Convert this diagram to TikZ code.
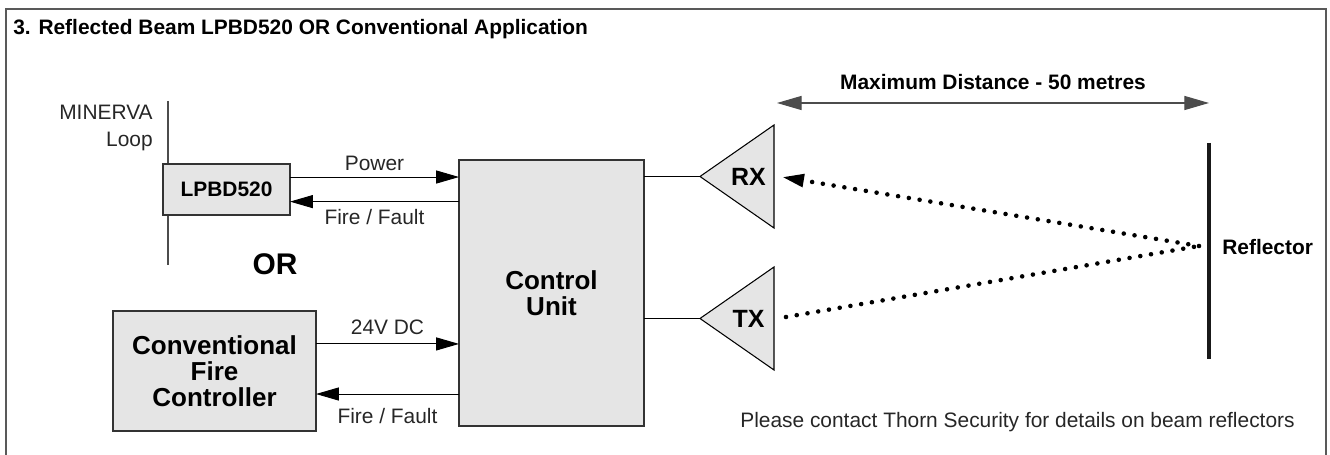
\documentclass[tikz,border=0pt]{standalone}
\usepackage{fontspec}
\setmainfont{Liberation Sans}
\usetikzlibrary{arrows.meta}

\begin{document}
\begin{tikzpicture}[
    x=0.02cm, y=-0.02cm,
    font=\fontsize{11.9}{15.4}\selectfont,
    box/.style={draw=black!80, fill=black!10, line width=0.75pt, inner sep=0pt,
                outer sep=0pt, align=center},
    bold/.style={font=\fontsize{11.9}{15.4}\selectfont\bfseries},
    big/.style={font=\fontsize{14.8}{14.8}\selectfont\bfseries},
    lbl/.style={inner sep=0pt, text height=8.5pt, text depth=0pt, text=black!85},
    sig/.style={-{Triangle[length=13pt, width=7.4pt]}, line width=0.55pt},
    sensor/.style={draw=black, fill=black!10, line width=0.6pt},
    beam/.style={line width=2.6pt, line cap=round, dash pattern=on 0pt off 6.2pt},
  ]
  \useasboundingbox (0,0) rectangle (1330,455);
  % frame, open at the bottom
  \draw[black!65, line width=1.1pt] (6,455) -- (6,9) -- (1326,9) -- (1326,455);
  \node[bold, anchor=base west, inner sep=0pt] (title) at (13,35)
    {3. Reflected Beam LPBD520 OR Conventional Application};

  % loop side
  \coordinate (looptop) at (168,101);
  \coordinate (loopbot) at (168,265);
  \draw[black!70, line width=0.6pt] (looptop) -- (loopbot);
  \node[align=right, anchor=north east, inner sep=0pt, text=black!85] (loop) at (153,105)
    {MINERVA\\Loop};
  \node[box, bold, minimum width=2.54cm, minimum height=1.02cm] (lpbd) at (226.5,189.5) {LPBD520};
  \node[font=\fontsize{17}{17}\selectfont\bfseries] (or) at (275,264) {OR};
  \node[box, big, minimum width=4.06cm, minimum height=2.4cm] (cfc) at (214.5,371)
    {Conventional\\Fire\\Controller};
  \node[box, big, minimum width=3.7cm, minimum height=5.32cm] (cu) at (551.5,293)
    {Control\\Unit};

  \draw[sig] ([yshift=7.1pt]lpbd.east) -- ([yshift=7.1pt]lpbd.east -| cu.west)
    node[lbl, midway, above=3.4pt] {Power};
  \draw[sig] ([yshift=-6.9pt]lpbd.east -| cu.west) -- ([yshift=-6.9pt]lpbd.east)
    node[lbl, midway, below=4.5pt] {Fire / Fault};
  \draw[sig] ([yshift=15.4pt]cfc.east) -- ([yshift=15.4pt]cfc.east -| cu.west)
    node[lbl, midway, above=5.2pt] {24V DC};
  \draw[sig] ([yshift=-13.1pt]cfc.east -| cu.west) -- ([yshift=-13.1pt]cfc.east)
    node[lbl, midway, below=7.8pt] {Fire / Fault};

  % heads
  \coordinate (rxtip) at (700,176.5);
  \coordinate (txtip) at (700,318.5);
  \draw[sensor] (rxtip) -- ++(74,-51.5) -- ++(0,103) -- cycle;
  \draw[sensor] (txtip) -- ++(74,-51.5) -- ++(0,103) -- cycle;
  \node[font=\fontsize{14.2}{14.2}\selectfont\bfseries] (rx) at (748.5,177) {RX};
  \node[font=\fontsize{14.2}{14.2}\selectfont\bfseries] (tx) at (748.5,319) {TX};
  \draw[line width=0.55pt] (cu.east |- rxtip) -- (rxtip);
  \draw[line width=0.55pt] (cu.east |- txtip) -- (txtip);

  % reflector and beams
  \coordinate (refltop) at (1209,143);
  \coordinate (reflbot) at (1209,359);
  \coordinate (bounce) at (1199,246);
  \coordinate (rxin) at (782,177);
  \coordinate (txout) at (786,317);
  \draw[black!90, line width=2.8pt] (refltop) -- (reflbot);
  \node[bold, anchor=west, inner sep=0pt] (refl) at (1222,247) {Reflector};
  \draw[beam, -{Triangle[length=12.5pt, width=7pt]}] (bounce) -- (rxin);
  \draw[beam] (txout) -- (bounce);

  \coordinate (mdl) at (777,103);
  \coordinate (mdr) at (1209,103);
  \draw[{Triangle[length=14pt, width=8pt]}-{Triangle[length=14pt, width=8pt]}, black!70, line width=0.6pt]
    (mdl) -- (mdr) node[lbl, bold, midway, above=7.4pt, text=black] {Maximum Distance - 50 metres};

  \node[anchor=base east, inner sep=0pt, text=black!85] (note) at (1295,428)
    {Please contact Thorn Security for details on beam reflectors};
\end{tikzpicture}
\end{document}
